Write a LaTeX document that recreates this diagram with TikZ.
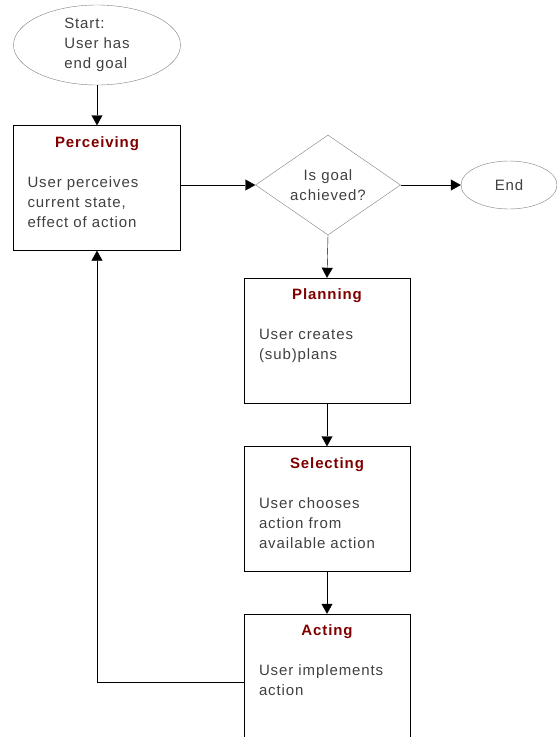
\documentclass[tikz,border=0pt]{standalone}
\usepackage{fontspec}
\setmainfont{Liberation Sans}[LetterSpace=6]
\usetikzlibrary{shapes.geometric, arrows.meta}
\definecolor{stagered}{HTML}{800000}
\definecolor{textgray}{HTML}{404040}
\definecolor{outlinegray}{HTML}{808080}
\tikzset{every node/.style={font=\fontsize{15}{20}\selectfont},
         stage/.style={draw,minimum width=166pt,minimum height=125pt,inner sep=0pt},
         terminal/.style={ellipse,draw=outlinegray,inner sep=0pt,text=textgray,align=left},
         decision/.style={diamond,aspect=1.45,draw=outlinegray,minimum width=145pt,minimum height=100pt,inner sep=0pt,text=textgray,align=center},
         stagetitle/.style={anchor=base,text=stagered,font=\fontsize{15}{20}\selectfont\bfseries},
         stagetext/.style={anchor=north west,inner sep=0pt,text=textgray,align=left},
         >={Triangle[length=10pt,width=11pt]}
        }

\begin{document}
\begin{tikzpicture}[x=1pt,y=-1pt]
        \useasboundingbox (0,0) rectangle (557,737);

        \node[terminal, minimum width=167pt, minimum height=80pt](start)at(97,45){Start:\\User has\\end goal};

        \node[stage, minimum width=167pt](perc)at(97,188){};
        \node[stagetitle](perc-title)at([yshift=-22pt]perc.north){Perceiving};
        \node[stagetext](perc-text)at([xshift=14pt,yshift=-51pt]perc.north west){User perceives\\current state,\\effect of action};

        \node[decision](goal)at(328,185){Is goal\\achieved?};
        \node[terminal, minimum width=96pt, minimum height=48pt](end)at(509,185){End};

        \node[stage](plan)at(327,340.5){};
        \node[stagetitle](plan-title)at([yshift=-22pt]plan.north){Planning};
        \node[stagetext](plan-text)at([xshift=15pt,yshift=-51pt]plan.north west){User creates\\(sub)plans};

        \node[stage](sel)at(327,509){};
        \node[stagetitle](sel-title)at([yshift=-22pt]sel.north){Selecting};
        \node[stagetext](sel-text)at([xshift=15pt,yshift=-51pt]sel.north west){User chooses\\action from\\available action};

        \node[stage](act)at(327,676.5){};
        \node[stagetitle](act-title)at([yshift=-22pt]act.north){Acting};
        \node[stagetext](act-text)at([xshift=15pt,yshift=-51pt]act.north west){User implements\\action};

        \draw[->](start.south)--(start.south |- perc.north);
        \draw[->](goal.west -| perc.east)--(goal.west);
        \draw[->](goal.east)--(end.west);
        \draw[->](goal.south)--(plan.north);
        \draw[->](plan.south)--(sel.north);
        \draw[->](sel.south)--(act.north);
        \draw[->]([yshift=-6pt]act.west)-|(perc.south);
    \end{tikzpicture}
\end{document}
